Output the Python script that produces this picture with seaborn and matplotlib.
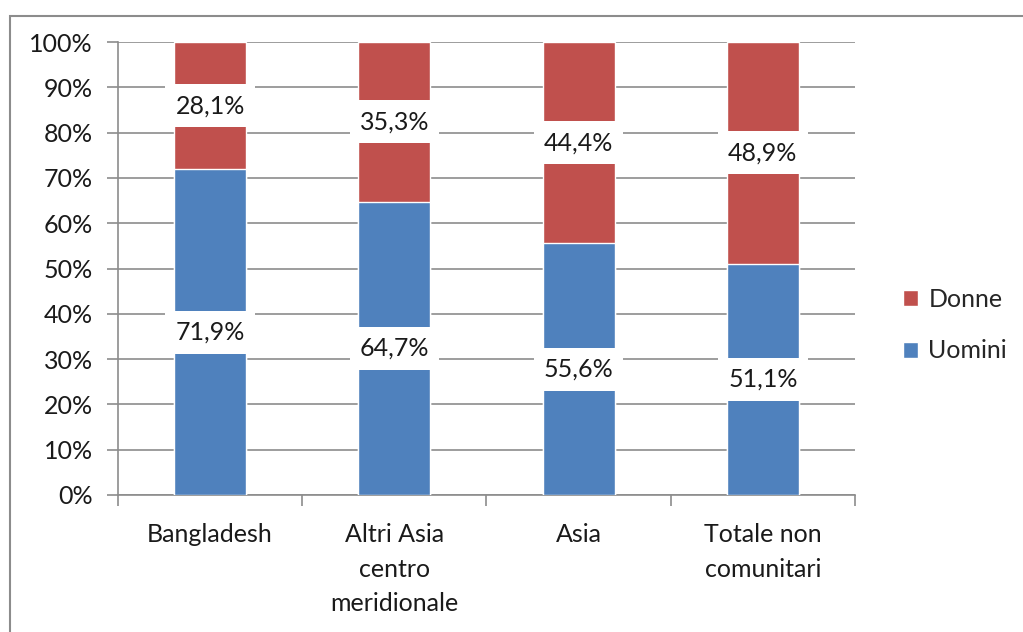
import matplotlib
matplotlib.use("Agg")
import matplotlib.pyplot as plt
import numpy as np
import pandas as pd
import seaborn as sns
from matplotlib.patches import Rectangle
from matplotlib.ticker import FixedLocator, PercentFormatter

categories = ["Bangladesh", "Altri Asia\ncentro\nmeridionale", "Asia", "Totale non\ncomunitari"]
uomini = [71.9, 64.7, 55.6, 51.1]
donne = [28.1, 35.3, 44.4, 48.9]

BLUE = "#4F81BD"
RED = "#C0504D"
GRID = "#8C8C8C"
TEXT = "#1a1a1a"
FS = 18

sns.set_theme(style="white")
plt.rcParams["font.family"] = ["Lato", "DejaVu Sans"]

df = pd.DataFrame({"categoria": categories, "Uomini": uomini, "Donne": donne})
df["Totale"] = df["Uomini"] + df["Donne"]

fig = plt.figure(figsize=(10.23, 6.32), dpi=100)
ax = fig.add_axes([0.1153, 0.2168, 0.7205, 0.7167])

sns.barplot(data=df, x="categoria", y="Totale", color=RED, width=0.39,
            saturation=1, ax=ax, label="Donne", zorder=3)
sns.barplot(data=df, x="categoria", y="Uomini", color=BLUE, width=0.39,
            saturation=1, ax=ax, label="Uomini", zorder=3)

# percentage labels on white boxes in the middle of each segment
for i, (u, d) in enumerate(zip(uomini, donne)):
    for val, mid in ((u, u / 2), (d, u + d / 2)):
        ax.text(i, mid, f"{val:.1f}%".replace(".", ","), ha="center", va="center",
                fontsize=FS, color=TEXT, zorder=5,
                bbox=dict(boxstyle="square,pad=0.4", fc="white", ec="none"))

ax.set_ylim(0, 100)
ax.set_xlim(-0.5, len(categories) - 0.5)
ax.set_yticks(np.arange(0, 101, 10))
ax.yaxis.set_major_formatter(PercentFormatter(decimals=0))
ax.yaxis.grid(True, color=GRID, linewidth=1.2, zorder=0)
ax.set_axisbelow(True)
ax.set_xlabel("")
ax.set_ylabel("")

ax.xaxis.set_minor_locator(FixedLocator(np.arange(-0.5, len(categories), 1)))
ax.tick_params(axis="x", which="major", length=0, pad=20, labelsize=FS, colors=TEXT)
ax.tick_params(axis="x", which="minor", length=8, width=1.2, color=GRID, direction="out", bottom=True)
ax.tick_params(axis="y", length=8, width=1.2, color=GRID, direction="out", left=True,
               labelsize=FS, labelcolor=TEXT, pad=10)
for lbl in ax.get_xticklabels():
    lbl.set_linespacing(1.62)
    lbl.set_va("top")

for side in ("top", "right"):
    ax.spines[side].set_visible(False)
for side in ("left", "bottom"):
    ax.spines[side].set_color(GRID)
    ax.spines[side].set_linewidth(1.2)

handles, labels = ax.get_legend_handles_labels()
ax.legend(handles, labels, loc="center left", bbox_to_anchor=(1.035, 0.375), frameon=False,
          fontsize=FS, handlelength=0.6, handleheight=0.6, labelspacing=1.15,
          handletextpad=0.4)

# outer chart frame
fig.patches.append(Rectangle((0.0098, -0.1), 1.2, 1.0742, transform=fig.transFigure,
                             fill=False, ec=GRID, lw=1.5))

fig.savefig("out.png", dpi=100)
